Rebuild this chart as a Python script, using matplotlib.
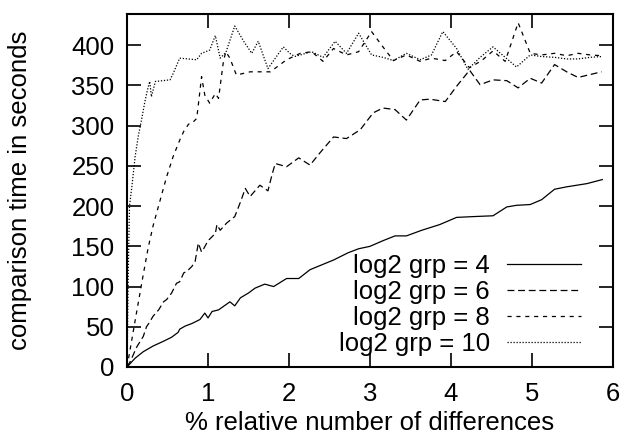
import matplotlib
matplotlib.use('Agg')
import matplotlib.pyplot as plt

# values
x_g4 = [0, 0.1, 0.2, 0.32, 0.45, 0.55, 0.63, 0.65, 0.72, 0.80, 0.90, 0.96, 1.0, 1.05,
        1.13, 1.27, 1.33, 1.40, 1.50, 1.58, 1.70, 1.81, 1.97, 2.12, 2.26, 2.55, 2.73,
        2.86, 3.0, 3.16, 3.31, 3.45, 3.64, 3.86, 4.07, 4.28, 4.52, 4.69, 4.81, 4.98,
        5.12, 5.28, 5.43, 5.68, 5.87]
y_g4 = [0, 11, 19, 26, 32, 37, 43, 47, 51, 54, 59, 67, 61, 69,
        71, 81, 76, 86, 92, 98, 103, 100, 110, 110, 121, 133, 142,
        147, 150, 157, 163, 163, 170, 177, 186, 187, 188, 199, 201, 202,
        208, 221, 224, 228, 233]

x_g6 = [0, 0.04, 0.12, 0.2, 0.24, 0.28, 0.32, 0.39, 0.45, 0.49, 0.55, 0.61, 0.65, 0.70,
        0.74, 0.80, 0.84, 0.88, 0.92, 0.94, 1.0, 1.05, 1.09, 1.11, 1.15, 1.23, 1.33,
        1.40, 1.46, 1.52, 1.64, 1.74, 1.79, 1.83, 1.97, 2.12, 2.26, 2.38, 2.55, 2.71,
        2.88, 3.04, 3.16, 3.31, 3.45, 3.62, 3.74, 3.93, 4.07, 4.23, 4.36, 4.52, 4.69,
        4.83, 4.98, 5.12, 5.28, 5.43, 5.57, 5.86]
y_g6 = [0, 7, 25, 38, 50, 56, 63, 71, 81, 84, 92, 104, 106, 117,
        119, 125, 131, 154, 143, 146, 157, 162, 166, 177, 170, 179, 187,
        205, 222, 212, 226, 219, 239, 253, 249, 260, 251, 266, 286, 284,
        295, 316, 322, 320, 307, 332, 333, 330, 349, 369, 351, 357, 356,
        347, 359, 353, 376, 367, 360, 367]

x_g8 = [0, 0.1, 0.2, 0.26, 0.32, 0.41, 0.49, 0.57, 0.65, 0.70, 0.76, 0.80, 0.86, 0.88,
        0.92, 0.96, 1.02, 1.09, 1.13, 1.19, 1.22, 1.27, 1.35, 1.52, 1.77, 1.97, 2.14,
        2.28, 2.42, 2.55, 2.71, 2.86, 3.02, 3.16, 3.29, 3.45, 3.62, 3.76, 3.93, 4.07,
        4.23, 4.38, 4.52, 4.67, 4.83, 4.98, 5.12, 5.28, 5.43, 5.57, 5.72, 5.86]
y_g8 = [0, 58, 115, 148, 175, 208, 237, 262, 282, 293, 302, 303, 309, 326,
        361, 338, 328, 340, 334, 380, 392, 384, 363, 367, 367, 382, 390,
        392, 380, 396, 388, 392, 417, 398, 381, 388, 380, 384, 381, 392,
        372, 381, 393, 380, 428, 390, 388, 390, 387, 390, 388, 387]

x_g10 = [0, 0.015, 0.03, 0.06, 0.1, 0.14, 0.18, 0.22, 0.26, 0.28, 0.30, 0.35, 0.53,
         0.57, 0.65, 0.86, 0.92, 1.02, 1.09, 1.15, 1.22, 1.33, 1.44, 1.54, 1.62,
         1.74, 1.93, 2.01, 2.07, 2.28, 2.42, 2.57, 2.71, 2.86, 3.02, 3.16, 3.29,
         3.45, 3.62, 3.76, 3.90, 4.07, 4.21, 4.36, 4.52, 4.67, 4.81, 4.98, 5.12,
         5.28, 5.43, 5.57, 5.72, 5.86]
y_g10 = [0, 120, 200, 225, 262, 288, 308, 330, 348, 355, 336, 355, 357,
         365, 384, 382, 390, 394, 412, 384, 391, 424, 405, 390, 405,
         371, 398, 390, 386, 392, 385, 405, 390, 415, 388, 385, 381,
         390, 382, 388, 417, 396, 370, 385, 398, 385, 373, 388, 386,
         385, 383, 383, 385, 386]

labels = ['log2 grp = 4', 'log2 grp = 6', 'log2 grp = 8', 'log2 grp = 10']

fs = 18.5
plt.rcParams['font.family'] = ['Liberation Sans', 'DejaVu Sans']
plt.rcParams['font.size'] = fs

fig = plt.figure(figsize=(6.26, 4.43), dpi=100)
ax = fig.add_axes([0.203, 0.1716, 0.776, 0.797])

lw = 0.9
ax.plot(x_g4, y_g4, color='black', lw=lw, label=labels[0])
ax.plot(x_g6, y_g6, color='black', lw=lw, dashes=(5.5, 3), label=labels[1])
ax.plot(x_g8, y_g8, color='black', lw=lw, dashes=(3.3, 3.8), label=labels[2])
ax.plot(x_g10, y_g10, color='black', lw=lw, dashes=(1, 1.4), label=labels[3])

ax.set_xlim(0, 6)
ax.set_ylim(0, 439)
ax.set_xticks(range(0, 7))
ax.set_yticks(range(0, 401, 50))
ax.tick_params(axis='both', direction='in', length=10, width=1.2, top=True, right=True,
               labelsize=fs)
ax.tick_params(axis='x', pad=11)
ax.tick_params(axis='y', pad=9)
for s in ax.spines.values():
    s.set_linewidth(1.5)

ax.set_xlabel('% relative number of differences', fontsize=fs)
ax.set_ylabel('comparison time in seconds', fontsize=fs)
ax.xaxis.set_label_coords(0.5, -0.125)
ax.yaxis.set_label_coords(-0.196, 0.5)

ax.legend(loc='lower right', bbox_to_anchor=(0.946, 0.017), frameon=False,
          markerfirst=False, handlelength=2.9, handletextpad=0.66,
          labelspacing=0.08, borderpad=0.2, borderaxespad=0.0, fontsize=fs)
for t in ax.get_legend().get_texts():
    t.set_ha('right')

fig.savefig('out.png', dpi=100)
